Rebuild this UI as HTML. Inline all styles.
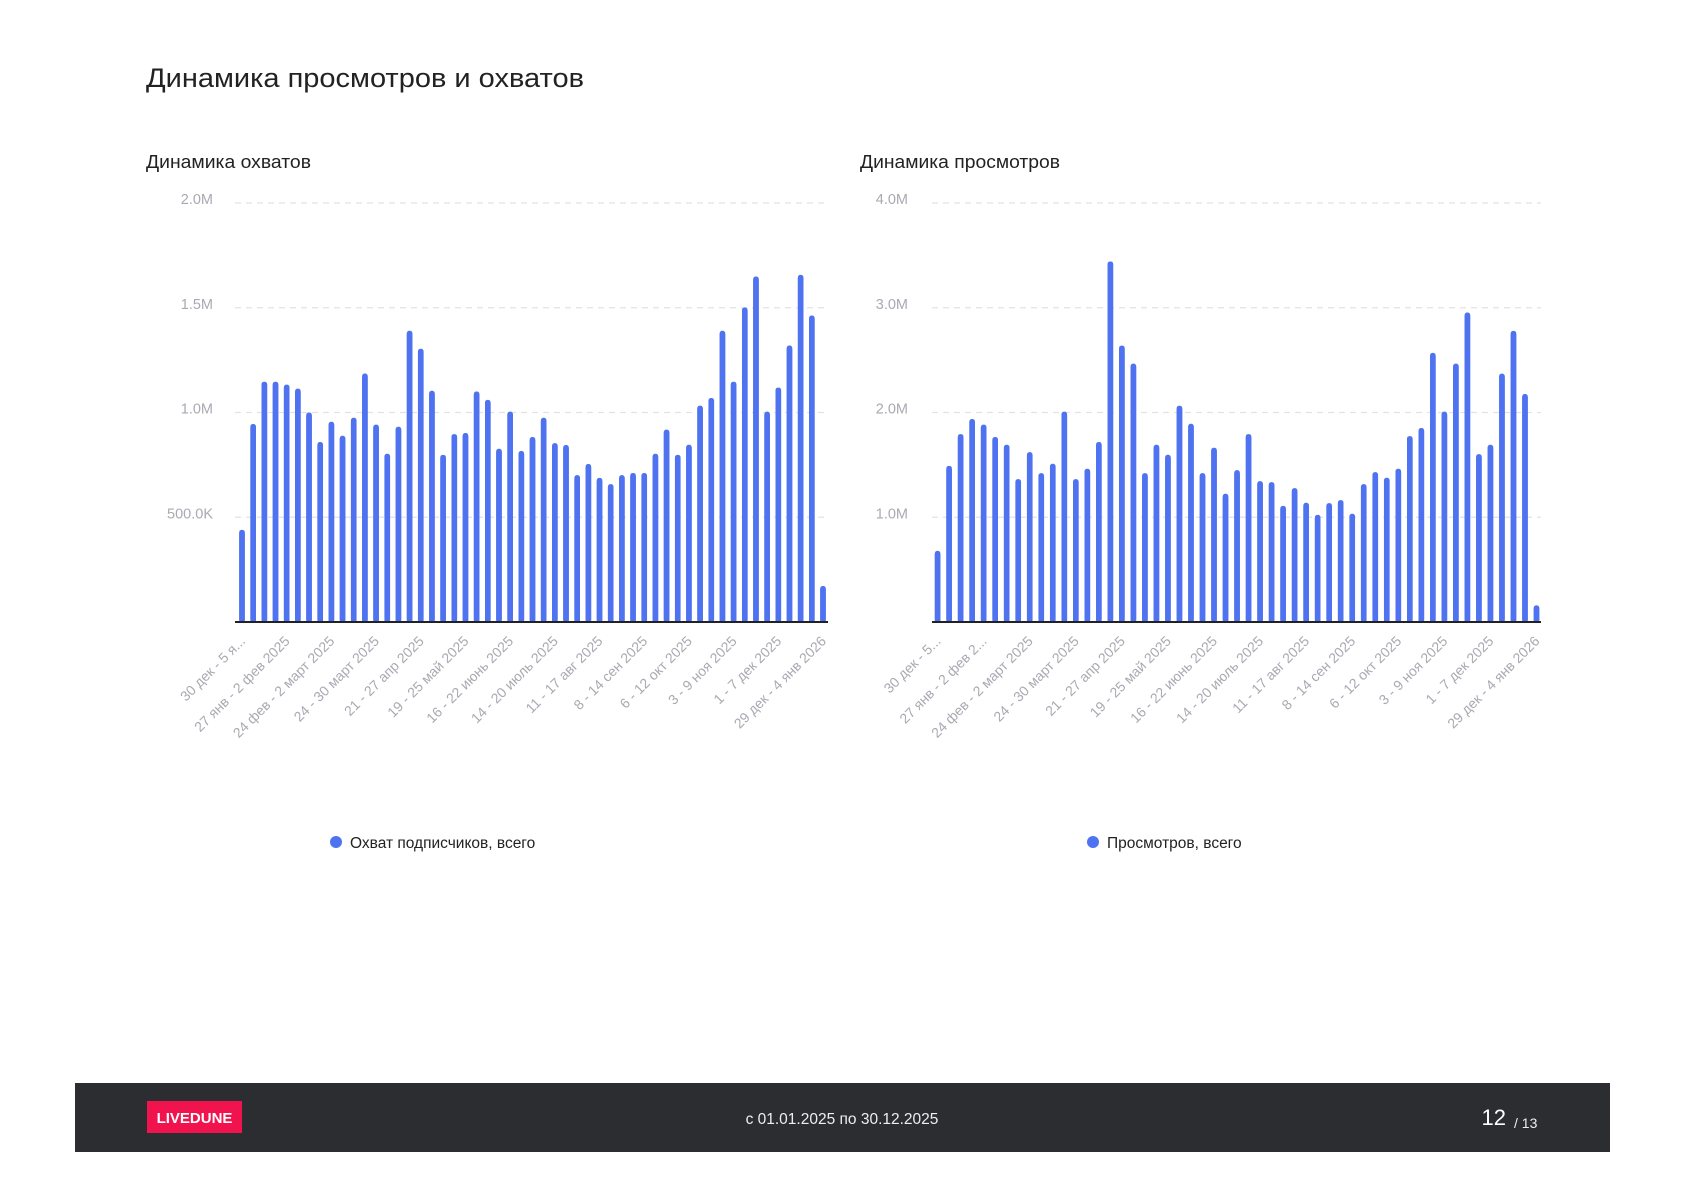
<!DOCTYPE html>
<html><head><meta charset="utf-8">
<style>
html,body{margin:0;padding:0;background:#fff;width:1683px;height:1191px;overflow:hidden}
svg{display:block}
text{font-family:"Liberation Sans","DejaVu Sans",sans-serif}
</style></head>
<body>
<svg id="s" width="1683" height="1191" viewBox="0 0 1683 1191" xmlns="http://www.w3.org/2000/svg">
<text x="146" y="87" font-size="27" fill="#222" textLength="438" lengthAdjust="spacingAndGlyphs">Динамика просмотров и охватов</text>
<text x="146" y="168" font-size="18" fill="#222" textLength="165" lengthAdjust="spacingAndGlyphs">Динамика охватов</text>
<text x="860" y="168" font-size="18" fill="#222" textLength="200" lengthAdjust="spacingAndGlyphs">Динамика просмотров</text>
<g id="g1"></g><g id="g2"></g>
<circle cx="336" cy="842" r="6" fill="#4f73f0"/>
<text x="350" y="848" font-size="15.5" fill="#222">Охват подписчиков, всего</text>
<circle cx="1093" cy="842" r="6" fill="#4f73f0"/>
<text x="1107" y="848" font-size="15.5" fill="#222">Просмотров, всего</text>
<rect x="75" y="1083" width="1535" height="69" fill="#2b2d31"/>
<rect x="147" y="1101" width="95" height="32" fill="#f0134d"/>
<text x="194.5" y="1123" font-size="15" font-weight="bold" fill="#fff" text-anchor="middle">LIVEDUNE</text>
<text x="842" y="1124" font-size="15.5" fill="#eee" text-anchor="middle">с 01.01.2025 по 30.12.2025</text>
<text x="1506" y="1125" font-size="22" fill="#fff" text-anchor="end">12</text>
<text x="1514" y="1128" font-size="14" fill="#eee">/ 13</text>
</svg>
<script>
var NS="http://www.w3.org/2000/svg";
function el(p,t,a,txt){var e=document.createElementNS(NS,t);for(var k in a)e.setAttribute(k,a[k]);if(txt!=null)e.textContent=txt;p.appendChild(e);return e;}
var A=[0.44,0.945,1.147,1.147,1.133,1.114,1.0,0.859,0.956,0.889,0.975,1.186,0.942,0.803,0.932,1.39,1.304,1.104,0.798,0.897,0.902,1.10,1.06,0.827,1.004,0.816,0.883,0.975,0.854,0.845,0.701,0.754,0.688,0.658,0.701,0.711,0.711,0.803,0.918,0.798,0.846,1.033,1.069,1.39,1.147,1.501,1.649,1.004,1.119,1.32,1.657,1.463,0.172];
var B=[0.679,1.49,1.794,1.938,1.884,1.766,1.692,1.364,1.622,1.421,1.511,2.008,1.364,1.463,1.718,3.442,2.639,2.467,1.421,1.692,1.597,2.065,1.893,1.421,1.664,1.224,1.45,1.794,1.345,1.335,1.109,1.278,1.138,1.023,1.135,1.163,1.033,1.316,1.431,1.377,1.463,1.775,1.852,2.569,2.008,2.467,2.955,1.603,1.692,2.371,2.779,2.177,0.159];
var L=["24 фев - 2 март 2025","24 - 30 март 2025","21 - 27 апр 2025","19 - 25 май 2025","16 - 22 июнь 2025","14 - 20 июль 2025","11 - 17 авг 2025","8 - 14 сен 2025","6 - 12 окт 2025","3 - 9 ноя 2025","1 - 7 дек 2025","29 дек - 4 янв 2026"];
function chart(g,data,max,ticks,x0,x1,b0,b1,lx,first,labels){
  var top=203,base=622,H=base-top;
  ticks.forEach(function(t){var y=base-t[0]/max*H;
    if(t[0]>0){el(g,"line",{x1:x0,x2:x1,y1:y,y2:y,stroke:"#e2e2e2","stroke-width":1.2,"stroke-dasharray":"6,5"});}
    el(g,"text",{x:lx,y:y+1,"font-size":14.5,fill:"#a9a9b2","text-anchor":"end"},t[1]);});
  var n=data.length,st=(b1-b0)/(n-1);
  data.forEach(function(v,i){var x=b0+i*st,h=v/max*H;
    el(g,"rect",{x:x-2.8,y:base-h,width:5.6,height:h,rx:2.5,fill:"#4f73f0"});
    el(g,"rect",{x:x-2.8,y:base-h+3,width:5.6,height:h-3,fill:"#4f73f0"});});
  el(g,"line",{x1:x0,x2:x1,y1:base,y2:base,stroke:"#222","stroke-width":2});
  labels.forEach(function(s,k){var x=b0+k*4*st+4,y=642;
    el(g,"text",{x:x,y:y,"font-size":14,fill:"#a9a9b2","text-anchor":"end",transform:"rotate(-45 "+x+" "+y+")"},s);});
}
chart(document.getElementById("g1"),A,2.0,[[2,"2.0M"],[1.5,"1.5M"],[1,"1.0M"],[0.5,"500.0K"]],235,828,242,823,213,0,["30 дек - 5 я...","27 янв - 2 фев 2025"].concat(L));
chart(document.getElementById("g2"),B,4.0,[[4,"4.0M"],[3,"3.0M"],[2,"2.0M"],[1,"1.0M"]],932,1541,937.6,1536.5,908,0,["30 дек - 5...","27 янв - 2 фев 2..."].concat(L));
</script>
</body></html>
